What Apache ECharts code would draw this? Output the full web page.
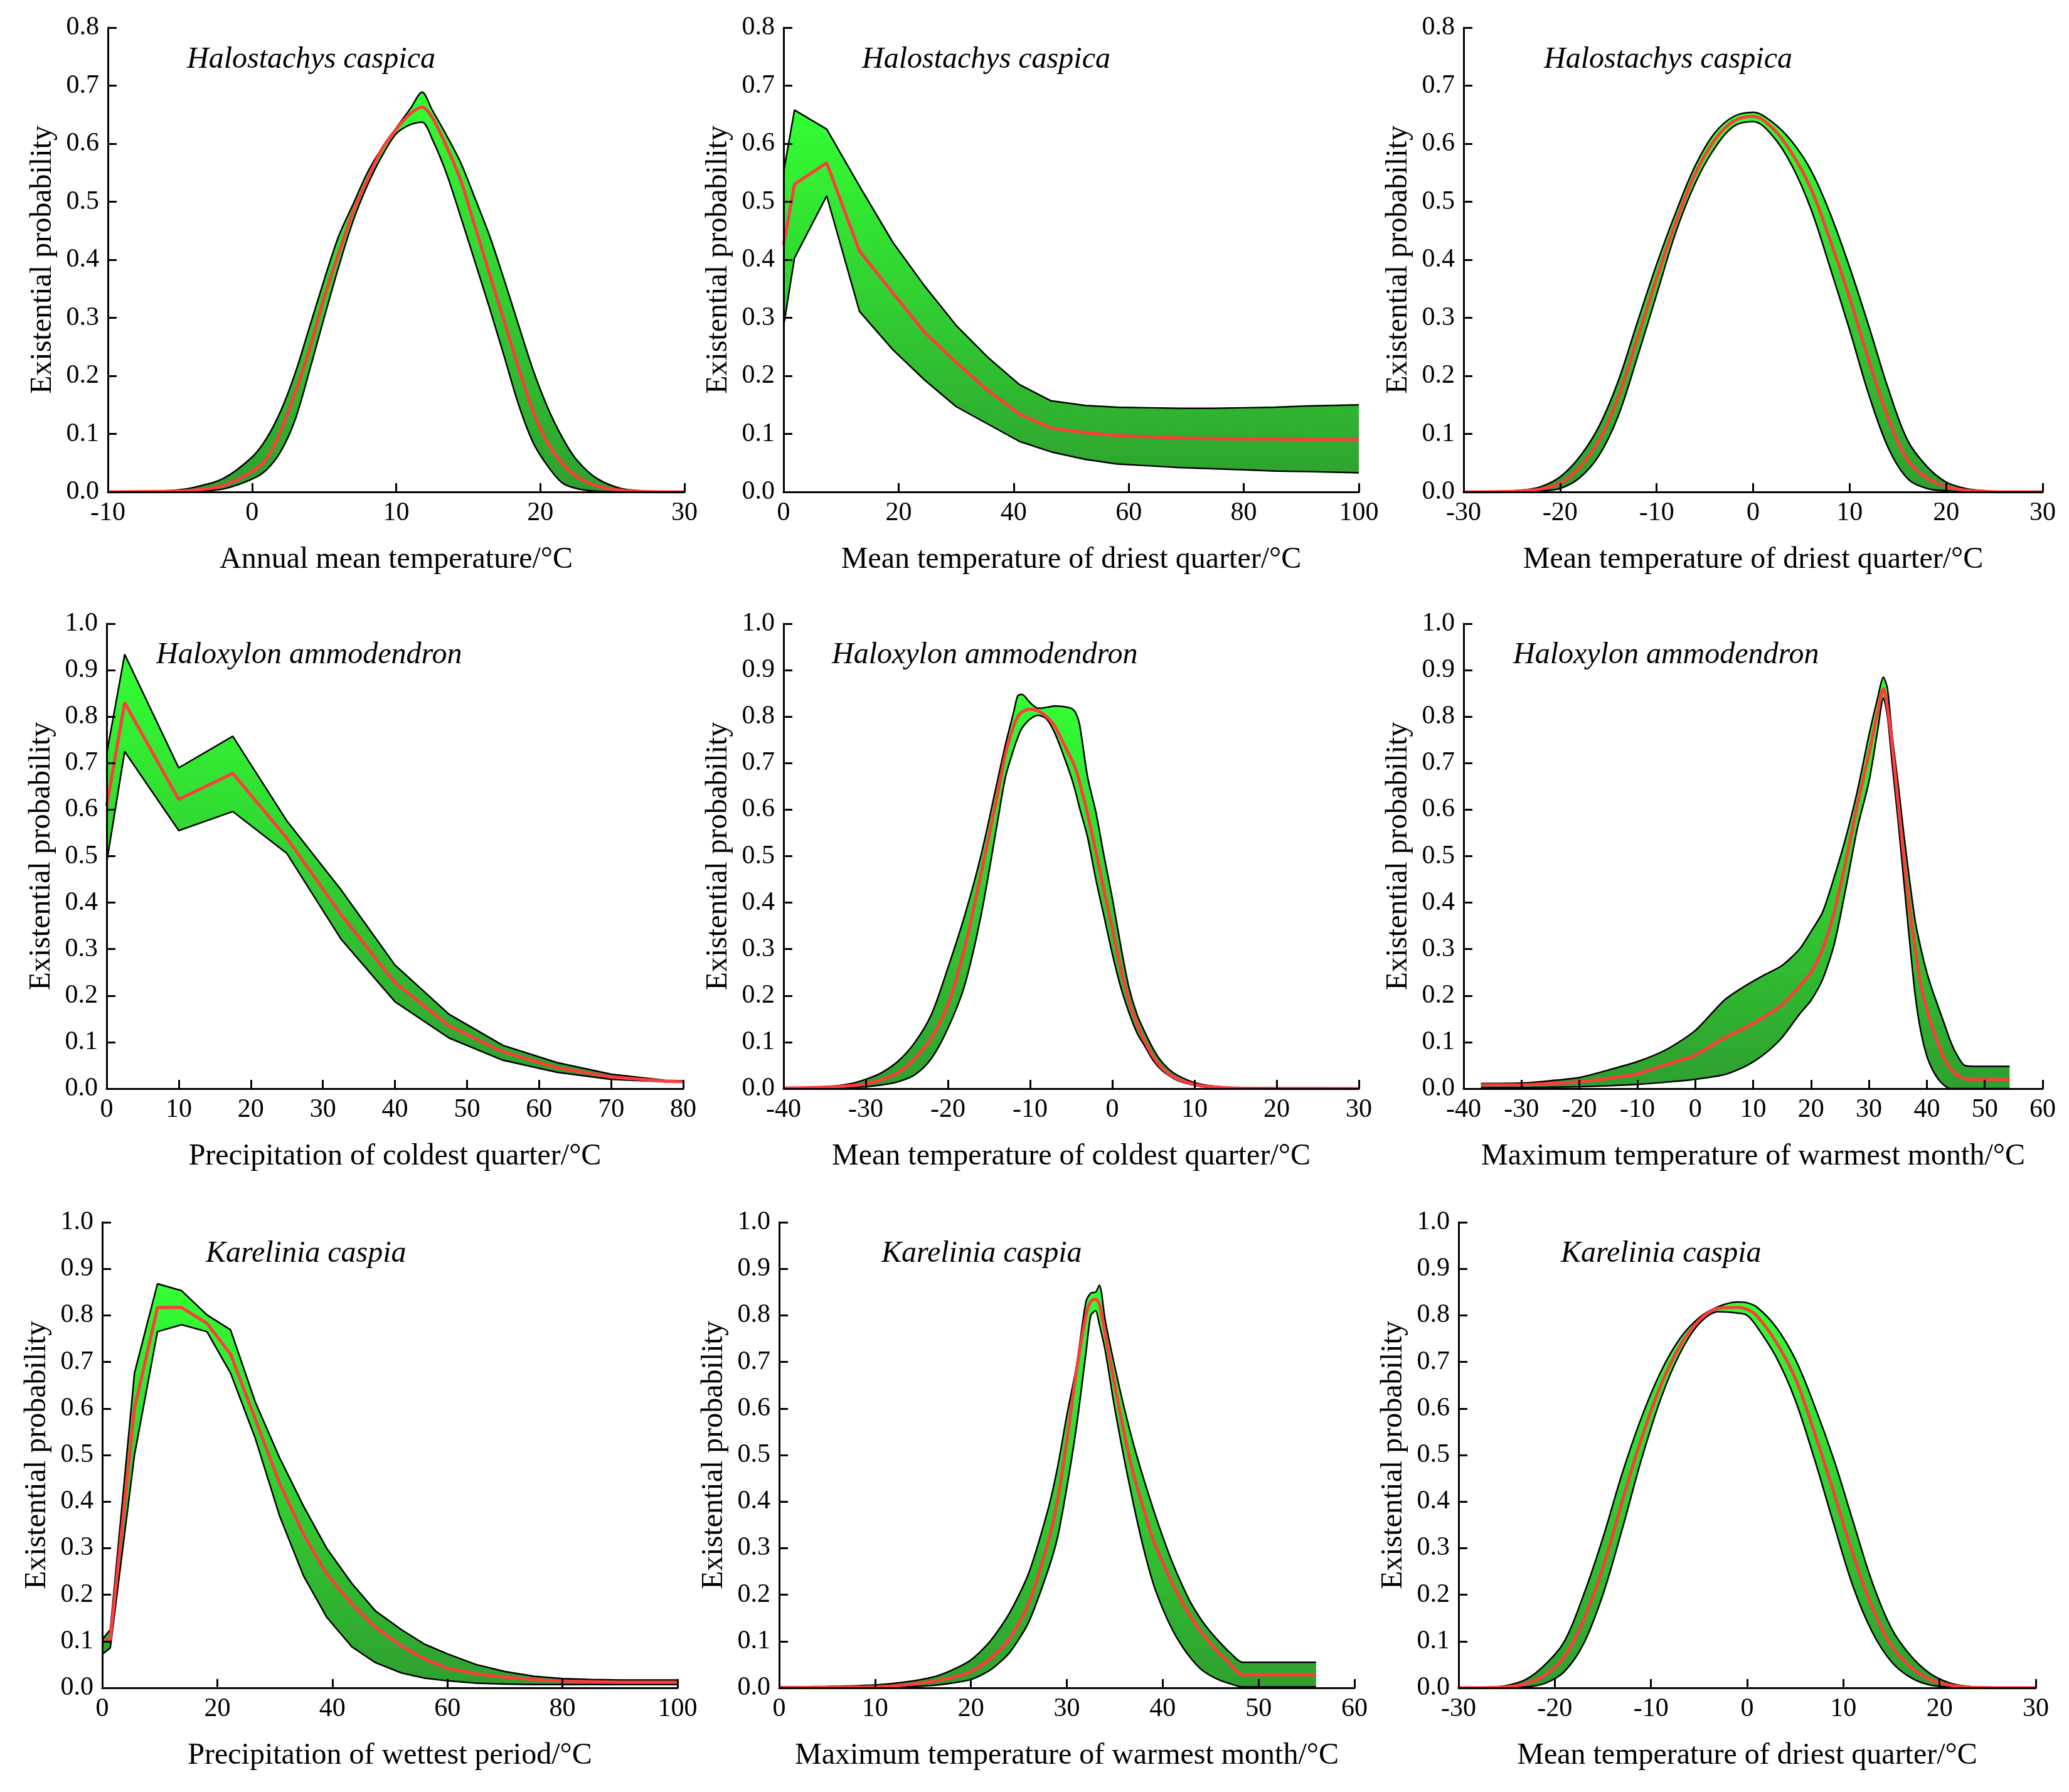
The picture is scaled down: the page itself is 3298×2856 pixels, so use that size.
<!DOCTYPE html>
<html>
<head>
<meta charset="utf-8">
<title>Response curves</title>
<script src="https://cdn.jsdelivr.net/npm/echarts@6/dist/echarts.min.js"></script>
<style>
html, body { margin: 0; padding: 0; background: #fff; }
#chart { width: 3298px; height: 2856px; }
</style>
</head>
<body>
<div id="chart"></div>
<script>
// panel 1 - annual mean temperature
var p1X = [-10, -6, -4, -2, 0, 1, 2, 3, 4, 5, 6, 7, 8, 9, 10, 11, 11.8, 12.5, 13.5, 14.5, 15.5, 16.5, 17.5, 18.5, 19.5, 20.5, 21.5, 22.5, 24, 26, 30];
var p1Mean = [0, 0.001, 0.003, 0.011, 0.035, 0.057, 0.105, 0.172, 0.247, 0.335, 0.41, 0.482, 0.538, 0.59, 0.625, 0.652, 0.663, 0.645, 0.595, 0.535, 0.455, 0.374, 0.294, 0.213, 0.139, 0.085, 0.05, 0.027, 0.01, 0.002, 0];
var p1High = [0, 0.002, 0.008, 0.023, 0.06, 0.092, 0.14, 0.205, 0.285, 0.365, 0.44, 0.495, 0.55, 0.592, 0.627, 0.661, 0.689, 0.658, 0.614, 0.566, 0.504, 0.44, 0.365, 0.287, 0.21, 0.146, 0.095, 0.056, 0.022, 0.004, 0];
var p1Low = [0, 0, 0.001, 0.005, 0.022, 0.038, 0.07, 0.125, 0.21, 0.3, 0.387, 0.466, 0.528, 0.578, 0.617, 0.633, 0.637, 0.608, 0.548, 0.472, 0.394, 0.315, 0.233, 0.15, 0.085, 0.045, 0.016, 0.006, 0.001, 0, 0];

// panel 2 - mean temperature of driest quarter
var p2X = [0, 1.9, 7.5, 13.2, 19, 24.5, 30, 35.5, 41, 46.5, 52.5, 58, 63.5, 69, 74.5, 80, 85.5, 91, 100];
var p2Mean = [0.426, 0.53, 0.567, 0.415, 0.343, 0.275, 0.223, 0.175, 0.134, 0.11, 0.102, 0.097, 0.095, 0.093, 0.092, 0.091, 0.091, 0.09, 0.09];
var p2High = [0.551, 0.658, 0.625, 0.527, 0.43, 0.355, 0.287, 0.232, 0.185, 0.157, 0.149, 0.146, 0.145, 0.144, 0.144, 0.145, 0.146, 0.148, 0.15];
var p2Low = [0.285, 0.403, 0.51, 0.311, 0.245, 0.193, 0.147, 0.117, 0.087, 0.069, 0.056, 0.048, 0.045, 0.042, 0.04, 0.038, 0.036, 0.035, 0.033];

// panel 3 - mean temperature of driest quarter
var p3X = [-30, -26, -24, -22, -20, -18, -16, -14, -12, -10, -8, -6, -4, -2, 0, 2, 4, 6, 8, 10, 12, 14, 16, 18, 20, 22, 24, 26, 30];
var p3Mean = [0, 0.0005, 0.002, 0.005, 0.015, 0.042, 0.088, 0.162, 0.264, 0.368, 0.465, 0.548, 0.606, 0.639, 0.647, 0.627, 0.584, 0.522, 0.433, 0.334, 0.226, 0.127, 0.055, 0.024, 0.009, 0.003, 0.001, 0, 0];
var p3High = [0, 0.001, 0.003, 0.009, 0.026, 0.06, 0.112, 0.19, 0.292, 0.392, 0.482, 0.562, 0.618, 0.647, 0.654, 0.637, 0.604, 0.554, 0.479, 0.387, 0.285, 0.178, 0.089, 0.044, 0.017, 0.006, 0.002, 0.0005, 0];
var p3Low = [0, 0, 0.001, 0.002, 0.006, 0.024, 0.062, 0.13, 0.232, 0.34, 0.448, 0.532, 0.592, 0.63, 0.638, 0.614, 0.563, 0.487, 0.385, 0.279, 0.167, 0.076, 0.023, 0.006, 0.002, 0, 0, 0, 0];

// panel 4 - precipitation of coldest quarter
var p4X = [0, 2.5, 10, 17.5, 25, 32.5, 40, 47.5, 55, 62.5, 70, 77.5, 80];
var p4Mean = [0.608, 0.83, 0.622, 0.678, 0.539, 0.375, 0.228, 0.135, 0.079, 0.045, 0.025, 0.016, 0.015];
var p4High = [0.72, 0.934, 0.69, 0.758, 0.576, 0.428, 0.266, 0.16, 0.093, 0.056, 0.031, 0.018, 0.017];
var p4Low = [0.486, 0.725, 0.555, 0.596, 0.506, 0.322, 0.187, 0.109, 0.061, 0.035, 0.02, 0.015, 0.015];

// panel 5 - mean temperature of coldest quarter
var p5X = [-40, -35, -32, -30, -28, -26, -24, -22, -20, -18, -16, -14, -13, -12, -11.5, -11, -10, -9, -8, -7, -6, -5, -4.5, -4, -3, -2, -1, 0, 1, 2, 3, 4, 5, 6, 7, 8, 10, 12, 15, 20, 30];
var p5Mean = [0.001, 0.003, 0.006, 0.01, 0.02, 0.035, 0.065, 0.11, 0.18, 0.3, 0.46, 0.63, 0.72, 0.78, 0.8, 0.81, 0.816, 0.812, 0.8, 0.78, 0.745, 0.71, 0.69, 0.66, 0.59, 0.51, 0.425, 0.345, 0.26, 0.19, 0.14, 0.1, 0.068, 0.045, 0.03, 0.02, 0.009, 0.004, 0.001, 0.0005, 0];
var p5High = [0.002, 0.004, 0.01, 0.02, 0.035, 0.06, 0.1, 0.16, 0.26, 0.37, 0.5, 0.66, 0.74, 0.81, 0.845, 0.848, 0.83, 0.818, 0.82, 0.823, 0.822, 0.818, 0.81, 0.785, 0.67, 0.595, 0.5, 0.41, 0.31, 0.22, 0.16, 0.12, 0.085, 0.058, 0.04, 0.028, 0.013, 0.006, 0.002, 0.001, 0.0005];
var p5Low = [0, 0.001, 0.002, 0.004, 0.008, 0.015, 0.03, 0.065, 0.13, 0.22, 0.37, 0.57, 0.67, 0.73, 0.755, 0.775, 0.795, 0.803, 0.795, 0.765, 0.72, 0.67, 0.64, 0.605, 0.54, 0.45, 0.37, 0.29, 0.22, 0.165, 0.12, 0.09, 0.06, 0.04, 0.027, 0.017, 0.007, 0.002, 0.0005, 0, 0];

// panel 6 - maximum temperature of warmest month
var p6X = [-37, -30, -25, -20, -15, -10, -5, 0, 5, 8.5, 12, 15, 18, 20, 22, 24, 26, 28, 30, 31.5, 32.5, 33.2, 34, 35, 36, 37, 38, 39, 40, 41, 42, 43, 44, 45, 46.5, 48, 54.3];
var p6Mean = [0.008, 0.008, 0.011, 0.015, 0.022, 0.032, 0.052, 0.072, 0.109, 0.13, 0.155, 0.18, 0.22, 0.25, 0.3, 0.38, 0.49, 0.61, 0.72, 0.81, 0.86, 0.82, 0.74, 0.62, 0.5, 0.39, 0.3, 0.22, 0.17, 0.13, 0.095, 0.065, 0.045, 0.032, 0.021, 0.02, 0.02];
var p6High = [0.011, 0.012, 0.017, 0.024, 0.04, 0.058, 0.084, 0.125, 0.19, 0.22, 0.245, 0.265, 0.3, 0.338, 0.38, 0.455, 0.54, 0.64, 0.76, 0.84, 0.885, 0.86, 0.76, 0.66, 0.55, 0.45, 0.36, 0.3, 0.25, 0.21, 0.175, 0.14, 0.105, 0.077, 0.05, 0.048, 0.048];
var p6Low = [0.002, 0.002, 0.003, 0.004, 0.006, 0.009, 0.014, 0.02, 0.03, 0.047, 0.075, 0.11, 0.16, 0.19, 0.235, 0.31, 0.43, 0.56, 0.66, 0.77, 0.84, 0.8, 0.7, 0.58, 0.45, 0.32, 0.2, 0.12, 0.07, 0.04, 0.02, 0.007, 0, 0, 0, 0, 0];

// panel 7 - precipitation of wettest period
var p7X = [0, 1.4, 5.6, 9.6, 13.8, 18.2, 22.3, 26.6, 30.8, 35, 39, 43.4, 47.5, 52, 56, 60, 65, 70, 75, 80, 85, 90, 100];
var p7Mean = [0.1, 0.104, 0.6, 0.817, 0.817, 0.783, 0.717, 0.577, 0.44, 0.33, 0.245, 0.18, 0.13, 0.09, 0.062, 0.042, 0.03, 0.023, 0.018, 0.014, 0.013, 0.012, 0.012];
var p7High = [0.104, 0.125, 0.676, 0.868, 0.853, 0.801, 0.769, 0.614, 0.495, 0.39, 0.3, 0.224, 0.165, 0.125, 0.094, 0.073, 0.05, 0.035, 0.025, 0.02, 0.018, 0.017, 0.017];
var p7Low = [0.072, 0.086, 0.5, 0.765, 0.78, 0.765, 0.676, 0.536, 0.37, 0.24, 0.152, 0.088, 0.054, 0.032, 0.021, 0.015, 0.01, 0.008, 0.007, 0.007, 0.007, 0.007, 0.007];

// panel 8 - maximum temperature of warmest month
var p8X = [0, 5, 10, 13, 16, 18, 20, 22, 24, 26, 28, 29, 30, 31, 32, 32.5, 33, 33.4, 34, 35, 36, 37, 38, 39, 40, 41, 42, 43, 44, 45, 46, 47, 48.3, 52, 56];
var p8Mean = [0, 0.001, 0.002, 0.006, 0.014, 0.022, 0.035, 0.062, 0.105, 0.18, 0.31, 0.4, 0.53, 0.68, 0.8, 0.83, 0.835, 0.824, 0.76, 0.65, 0.545, 0.455, 0.385, 0.318, 0.27, 0.225, 0.185, 0.15, 0.12, 0.095, 0.072, 0.052, 0.028, 0.028, 0.028];
var p8High = [0.002, 0.003, 0.006, 0.012, 0.023, 0.038, 0.06, 0.1, 0.16, 0.245, 0.38, 0.47, 0.585, 0.69, 0.83, 0.848, 0.85, 0.865, 0.79, 0.69, 0.6, 0.52, 0.45, 0.385, 0.325, 0.27, 0.222, 0.18, 0.147, 0.12, 0.097, 0.076, 0.055, 0.055, 0.055];
var p8Low = [0, 0, 0.001, 0.002, 0.005, 0.01, 0.018, 0.038, 0.075, 0.14, 0.25, 0.32, 0.43, 0.56, 0.72, 0.8, 0.81, 0.78, 0.725, 0.6, 0.49, 0.39, 0.3, 0.225, 0.17, 0.125, 0.09, 0.062, 0.04, 0.026, 0.016, 0.009, 0.002, 0.002, 0.002];

// panel 9 - mean temperature of driest quarter
var p9X = [-30, -27, -25, -23, -21, -19, -17, -15, -13, -11, -9, -7, -5, -3, -1, 0, 1, 3, 5, 7, 9, 11, 13, 15, 17, 19, 21, 23, 25, 27, 30];
var p9Mean = [0, 0.0005, 0.002, 0.009, 0.028, 0.067, 0.146, 0.258, 0.4, 0.535, 0.649, 0.734, 0.789, 0.815, 0.817, 0.813, 0.799, 0.743, 0.665, 0.548, 0.42, 0.287, 0.173, 0.09, 0.045, 0.018, 0.006, 0.0015, 0.0005, 0, 0];
var p9High = [0, 0.001, 0.005, 0.018, 0.05, 0.1, 0.2, 0.322, 0.46, 0.58, 0.678, 0.75, 0.795, 0.819, 0.829, 0.827, 0.818, 0.775, 0.706, 0.606, 0.491, 0.358, 0.227, 0.128, 0.069, 0.031, 0.011, 0.003, 0.001, 0, 0];
var p9Low = [0, 0, 0.001, 0.002, 0.01, 0.035, 0.095, 0.2, 0.34, 0.49, 0.62, 0.718, 0.782, 0.808, 0.805, 0.8, 0.776, 0.711, 0.618, 0.491, 0.352, 0.218, 0.12, 0.056, 0.022, 0.006, 0.002, 0, 0, 0, 0];

var speciesNames = ['Halostachys caspica', 'Haloxylon ammodendron', 'Karelinia caspia'];
var xAxisNames = [
    'Annual mean temperature/°C', 'Mean temperature of driest quarter/°C', 'Mean temperature of driest quarter/°C',
    'Precipitation of coldest quarter/°C', 'Mean temperature of coldest quarter/°C', 'Maximum temperature of warmest month/°C',
    'Precipitation of wettest period/°C', 'Maximum temperature of warmest month/°C', 'Mean temperature of driest quarter/°C'
];
var xRanges = [[-10, 30, 10], [0, 100, 20], [-30, 30, 10], [0, 80, 10], [-40, 30, 10], [-40, 60, 10], [0, 100, 20], [0, 60, 10], [-30, 30, 10]];
var yMaxes = [0.8, 0.8, 0.8, 1, 1, 1, 1, 1, 1];

var panels = [
    {x: p1X, mean: p1Mean, high: p1High, low: p1Low, smooth: 0.3},
    {x: p2X, mean: p2Mean, high: p2High, low: p2Low, smooth: false},
    {x: p3X, mean: p3Mean, high: p3High, low: p3Low, smooth: 0.35},
    {x: p4X, mean: p4Mean, high: p4High, low: p4Low, smooth: false},
    {x: p5X, mean: p5Mean, high: p5High, low: p5Low, smooth: 0.3},
    {x: p6X, mean: p6Mean, high: p6High, low: p6Low, smooth: 0.25},
    {x: p7X, mean: p7Mean, high: p7High, low: p7Low, smooth: false},
    {x: p8X, mean: p8Mean, high: p8High, low: p8Low, smooth: 0.25},
    {x: p9X, mean: p9Mean, high: p9High, low: p9Low, smooth: 0.35}
];

// grid boxes in px (left, top, width, height)
var boxes = [
    [172, 44, 919, 740], [1249, 44, 917, 740], [2333, 44, 923, 740],
    [170, 994, 919, 741], [1249, 994, 917, 741], [2333, 994, 923, 741],
    [163, 1948, 917, 742], [1242, 1948, 917, 742], [2325, 1948, 920, 742]
];
// species label anchor (left, centre y)
var labelPos = [
    [298, 95], [1374, 95], [2461, 95],
    [249, 1044], [1326, 1044], [2412, 1044],
    [328, 1998], [1405, 1998], [2488, 1998]
];

var font = 'Liberation Serif';

var chart = echarts.init(document.getElementById('chart'));

var grids = [], xAxes = [], yAxes = [], titles = [], series = [];

function pairs(xs, ys) {
    var out = [];
    for (var i = 0; i < xs.length; i++) {
        out.push([xs[i], ys[i]]);
    }
    return out;
}

panels.forEach(function (p, i) {
    var b = boxes[i];
    grids.push({left: b[0], top: b[1], width: b[2], height: b[3]});

    xAxes.push({
        type: 'value', gridIndex: i,
        min: xRanges[i][0], max: xRanges[i][1], interval: xRanges[i][2],
        z: 10,
        axisLine: {onZero: false, lineStyle: {color: '#000', width: 3}},
        axisTick: {inside: true, length: 14, lineStyle: {color: '#000', width: 3}},
        axisLabel: {color: '#000', fontSize: 42, fontFamily: font, margin: 13},
        splitLine: {show: false},
        name: xAxisNames[i], nameLocation: 'middle', nameGap: 84,
        nameTextStyle: {color: '#000', fontSize: 48, fontFamily: font}
    });

    yAxes.push({
        type: 'value', gridIndex: i,
        min: 0, max: yMaxes[i], interval: 0.1,
        z: 10,
        axisLine: {onZero: false, lineStyle: {color: '#000', width: 3}},
        axisTick: {inside: true, length: 14, lineStyle: {color: '#000', width: 3}},
        axisLabel: {
            color: '#000', fontSize: 42, fontFamily: font, margin: 14,
            formatter: function (v) { return v.toFixed(1); }
        },
        splitLine: {show: false},
        name: 'Existential probability', nameLocation: 'middle', nameGap: 80,
        nameTextStyle: {color: '#000', fontSize: 48, fontFamily: font}
    });

    titles.push({
        text: speciesNames[Math.floor(i / 3)],
        left: labelPos[i][0], top: labelPos[i][1] - 28,
        padding: 0,
        textStyle: {fontFamily: font, fontStyle: 'italic', fontWeight: 'normal', fontSize: 48, lineHeight: 56, color: '#000'}
    });

    // upper bound, filled down to the axis with the green gradient
    series.push({
        type: 'line', xAxisIndex: i, yAxisIndex: i,
        data: pairs(p.x, p.high), smooth: p.smooth,
        symbol: 'none', z: 2,
        lineStyle: {color: '#000', width: 2.5},
        areaStyle: {
            opacity: 1,
            color: new echarts.graphic.LinearGradient(0, 0, 0, 1, [
                {offset: 0, color: '#33ff33'},
                {offset: 1, color: '#2f9f2f'}
            ])
        }
    });
    // lower bound, white fill below to cut the band out
    series.push({
        type: 'line', xAxisIndex: i, yAxisIndex: i,
        data: pairs(p.x, p.low), smooth: p.smooth,
        symbol: 'none', z: 3,
        lineStyle: {color: '#000', width: 2.5},
        areaStyle: {opacity: 1, color: '#fff'}
    });
    // mean response
    series.push({
        type: 'line', xAxisIndex: i, yAxisIndex: i,
        data: pairs(p.x, p.mean), smooth: p.smooth,
        symbol: 'none', z: 4,
        lineStyle: {color: '#ff3c3c', width: 5}
    });
});

chart.setOption({
    animation: false,
    backgroundColor: '#fff',
    title: titles,
    grid: grids,
    xAxis: xAxes,
    yAxis: yAxes,
    series: series
});
</script>
</body>
</html>
